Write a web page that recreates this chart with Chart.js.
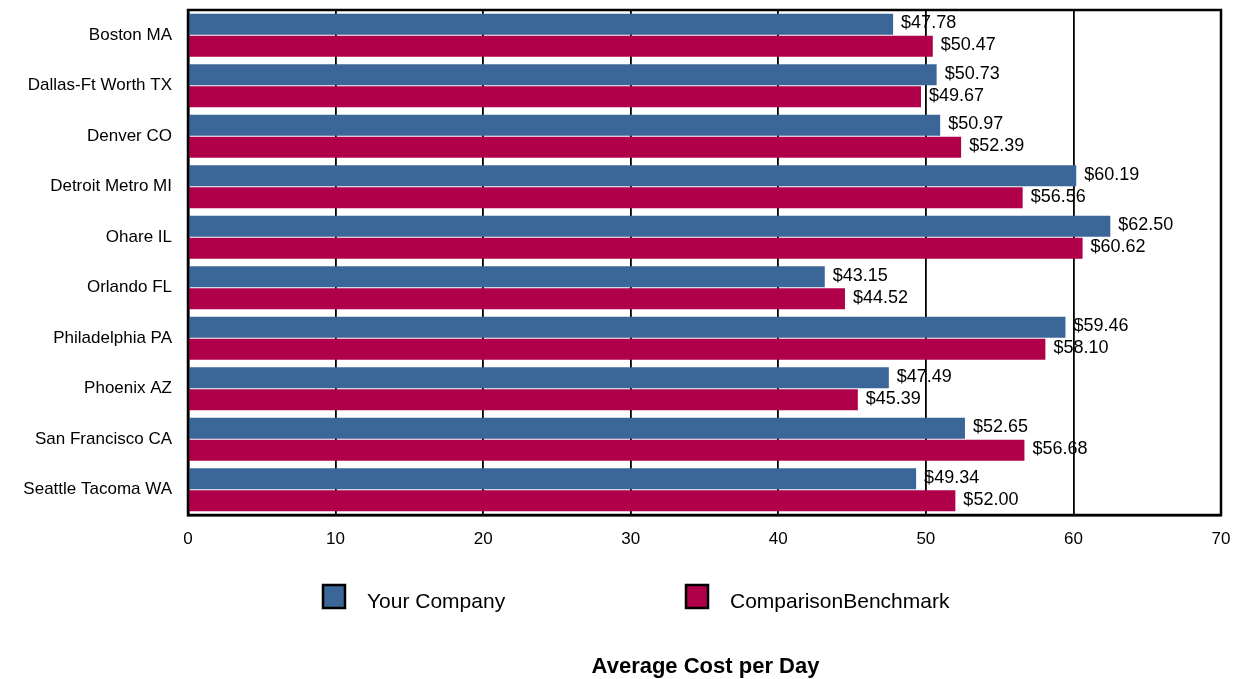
<!DOCTYPE html>
<html>
<head>
<meta charset="utf-8">
<script src="https://cdn.jsdelivr.net/npm/chart.js@4/dist/chart.umd.min.js"></script>
<style>
  html, body { margin: 0; padding: 0; background: #fff; }
  #wrap { width: 1243px; height: 679px; }
</style>
</head>
<body>
<div id="wrap"><canvas id="myChart" width="1243" height="679"></canvas></div>
<script>
const cities = ['Boston MA', 'Dallas-Ft Worth TX', 'Denver CO', 'Detroit Metro MI', 'Ohare IL',
    'Orlando FL', 'Philadelphia PA', 'Phoenix AZ', 'San Francisco CA', 'Seattle Tacoma WA'];
const yourCompany = [47.78, 50.73, 50.97, 60.19, 62.50, 43.15, 59.46, 47.49, 52.65, 49.34];
const benchmark = [50.47, 49.67, 52.39, 56.56, 60.62, 44.52, 58.10, 45.39, 56.68, 52.00];
const seriesNames = ['Your Company', 'ComparisonBenchmark'];
const xTicks = [0, 10, 20, 30, 40, 50, 60, 70];
const chartTitle = 'Average Cost per Day';

const FONT = "Arial, 'Liberation Sans', sans-serif";

// value labels at the end of each bar
const valueLabels = {
    id: 'valueLabels',
    afterDatasetsDraw(chart) {
        const ctx = chart.ctx;
        ctx.save();
        ctx.font = '18px ' + FONT;
        ctx.fillStyle = '#000';
        ctx.textAlign = 'left';
        ctx.textBaseline = 'middle';
        chart.data.datasets.forEach((ds, i) => {
            chart.getDatasetMeta(i).data.forEach((bar, j) => {
                ctx.fillText('$' + ds.data[j].toFixed(2), bar.x + 8, bar.y - 1);
            });
        });
        ctx.restore();
    }
};

// box around plot, legend and bottom title
const frameAndLegend = {
    id: 'frameAndLegend',
    afterDraw(chart) {
        const ctx = chart.ctx;
        const a = chart.chartArea;
        ctx.save();
        ctx.strokeStyle = '#000';
        ctx.lineWidth = 2.5;
        ctx.strokeRect(a.left, a.top, a.right - a.left, a.bottom - a.top);

        const boxX = [323, 686];
        ctx.font = '21px ' + FONT;
        ctx.textBaseline = 'alphabetic';
        ctx.textAlign = 'left';
        chart.data.datasets.forEach((ds, i) => {
            ctx.fillStyle = ds.backgroundColor;
            ctx.fillRect(boxX[i], 585, 22, 23);
            ctx.lineWidth = 2.5;
            ctx.strokeStyle = '#000';
            ctx.strokeRect(boxX[i], 585, 22, 23);
            ctx.fillStyle = '#000';
            ctx.fillText(ds.label, boxX[i] + 44, 608);
        });

        ctx.font = 'bold 22px ' + FONT;
        ctx.textAlign = 'center';
        ctx.fillText(chartTitle, (a.left + a.right) / 2 + 1, 673);
        ctx.restore();
    }
};

const data = {
    labels: cities,
    datasets: [{
        label: seriesNames[0],
        data: yourCompany,
        backgroundColor: '#3B6698',
        categoryPercentage: 0.87,
        barPercentage: 0.95
    }, {
        label: seriesNames[1],
        data: benchmark,
        backgroundColor: '#B0004A',
        categoryPercentage: 0.87,
        barPercentage: 0.95
    }]
};

const config = {
    type: 'bar',
    data: data,
    options: {
        indexAxis: 'y',
        responsive: false,
        animation: false,
        layout: { padding: { top: 10, right: 22, left: 0, bottom: 0 } },
        plugins: {
            legend: { display: false },
            tooltip: { enabled: false }
        },
        scales: {
            x: {
                min: 0,
                max: 70,
                afterBuildTicks: (axis) => { axis.ticks = xTicks.map(v => ({ value: v })); },
                afterFit: (axis) => {
                    axis.height = 679 - 515;
                    axis.paddingLeft = 0;
                    axis.paddingRight = 0;
                },
                grid: { color: '#000', lineWidth: 1.8, drawTicks: false },
                border: { color: '#000', width: 2.5 },
                ticks: { color: '#000', font: { family: FONT, size: 17 }, padding: 14, maxRotation: 0 }
            },
            y: {
                afterFit: (axis) => {
                    axis.width = 188;
                    axis.paddingTop = 0;
                    axis.paddingBottom = 0;
                },
                grid: { display: false, drawTicks: false },
                border: { color: '#000', width: 2.5 },
                ticks: { color: '#000', font: { family: FONT, size: 17 }, padding: 16 }
            }
        }
    },
    plugins: [valueLabels, frameAndLegend]
};

const myChart = new Chart(document.getElementById('myChart'), config);
</script>
</body>
</html>
